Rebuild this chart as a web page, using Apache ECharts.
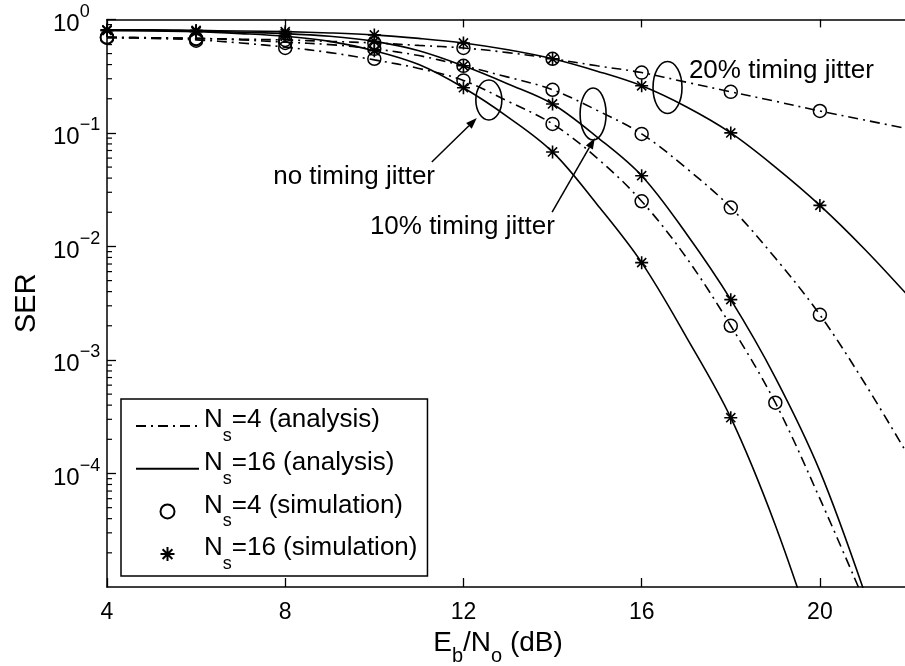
<!DOCTYPE html>
<html>
<head>
<meta charset="utf-8">
<script src="https://cdn.jsdelivr.net/npm/echarts@6/dist/echarts.min.js"></script>
<style>
  html, body { margin: 0; padding: 0; background: #fff; }
  #chart { width: 905px; height: 666px; }
</style>
</head>
<body>
<div id="chart"></div>
<script>
// Symbol error rate vs Eb/No, analysis curves and simulated points

// Eb/No grid (dB) of the analysis curves
const snrAnalysis = [4, 5, 6, 7, 8, 9, 10, 11, 12, 13, 14, 15, 16, 17, 18, 19, 20, 21, 22];

// Analysis, no timing jitter
const anaNoJitterNs16 = [0.80, 0.79, 0.78, 0.75, 0.71, 0.64, 0.53, 0.40, 0.25, 0.138, 0.068, 0.0234, 0.0072, 0.0016, 0.00031, 3.5e-5, 2.5e-6];
const anaNoJitterNs4  = [0.69, 0.68, 0.66, 0.62, 0.57, 0.51, 0.44, 0.37, 0.29, 0.19, 0.12, 0.060, 0.025, 0.0080, 0.0020, 0.00042, 6e-5, 7.5e-6];
// Analysis, 10% timing jitter
const anaJitter10Ns16 = [0.80, 0.80, 0.79, 0.77, 0.75, 0.71, 0.64, 0.53, 0.39, 0.27, 0.18, 0.092, 0.042, 0.013, 0.0034, 0.0007, 1.05e-4, 9e-6];
const anaJitter10Ns4  = [0.70, 0.69, 0.68, 0.66, 0.63, 0.60, 0.55, 0.48, 0.39, 0.31, 0.24, 0.158, 0.098, 0.049, 0.022, 0.0079, 0.0025, 0.00063, 0.00014];
// Analysis, 20% timing jitter
const anaJitter20Ns16 = [0.81, 0.81, 0.80, 0.79, 0.78, 0.76, 0.73, 0.68, 0.62, 0.54, 0.45, 0.35, 0.26, 0.17, 0.10, 0.050, 0.023, 0.0095, 0.0036];
const anaJitter20Ns4  = [0.69, 0.69, 0.68, 0.67, 0.66, 0.64, 0.62, 0.59, 0.56, 0.51, 0.45, 0.39, 0.34, 0.28, 0.23, 0.19, 0.156, 0.13, 0.108];

// Simulation points
const snrSim = [4, 6, 8, 10, 12, 14, 16, 18, 20];
const snrSimNoJitterNs4 = [4, 6, 8, 10, 12, 14, 16, 18, 19];
const simNoJitterNs4  = [0.69, 0.65, 0.56, 0.45, 0.29, 0.12, 0.025, 0.0020, 0.00042];
const simJitter10Ns4  = [0.70, 0.68, 0.62, 0.55, 0.39, 0.24, 0.098, 0.022, 0.0025];
const simJitter20Ns4  = [0.69, 0.67, 0.66, 0.62, 0.56, 0.45, 0.34, 0.23, 0.156];
const simNoJitterNs16 = [0.80, 0.78, 0.71, 0.53, 0.25, 0.068, 0.0072, 0.00031];
const simJitter10Ns16 = [0.80, 0.79, 0.75, 0.64, 0.39, 0.18, 0.042, 0.0034];
const simJitter20Ns16 = [0.81, 0.80, 0.78, 0.73, 0.62, 0.45, 0.26, 0.10, 0.023];

// Axis ticks
const xTicks = [4, 8, 12, 16, 20];
const yDecades = [-5, -4, -3, -2, -1, 0];

const FONT = '"Liberation Sans", Arial, Helvetica, sans-serif';
const BLACK = '#000';
const DASH_DOT = [10, 5, 2, 5];

const pair = (xs, ys) => ys.map((v, i) => [xs[i], v]);

function analysisSeries(name, ys, dashed) {
  return {
    name, type: 'line', data: pair(snrAnalysis, ys),
    symbol: 'none', showSymbol: false, smooth: 0.35, clip: true,
    lineStyle: { color: BLACK, width: 1.6, type: dashed ? DASH_DOT : 'solid' },
    itemStyle: { color: 'transparent', borderColor: 'transparent', borderWidth: 0 }, z: 3
  };
}

// minor ticks of the log axis (2..9 within each decade)
const minorTicks = [];
for (let i = 0; i < yDecades.length - 1; i++) {
  for (let k = 2; k <= 9; k++) minorTicks.push(k * Math.pow(10, yDecades[i]));
}

const STAR = 'path://M10,0L10,20M0,10L20,10M3,3L17,17M3,17L17,3';

const chart = echarts.init(document.getElementById('chart'), null, { renderer: 'canvas' });

const legendRich = {
  n: { fontSize: 26, fontFamily: FONT, color: BLACK, verticalAlign: 'top' },
  s: { fontSize: 18, fontFamily: FONT, color: BLACK, verticalAlign: 'bottom', padding: [20, 0, 0, 0] }
};

const hiddenDot = { opacity: 0 };

const option = {
  animation: false,
  backgroundColor: '#fff',
  grid: { left: 107, top: 19.4, width: 802, height: 567.6, containLabel: false, outerBoundsMode: 'none' },
  xAxis: [
    {
      type: 'value', min: 4, max: 22, interval: 4, position: 'bottom',
      axisLine: { show: true, lineStyle: { color: BLACK, width: 1.5 } },
      axisTick: { show: true, inside: true, length: 9, lineStyle: { color: BLACK, width: 1.3 },
        customValues: xTicks },
      axisLabel: { show: true, color: BLACK, fontSize: 23, fontFamily: FONT, margin: 14,
        customValues: xTicks },
      splitLine: { show: false },
      name: '{t|E}{s|b}{t|/N}{s|o}{t| (dB)}',
      nameLocation: 'middle', nameGap: 30,
      nameTextStyle: {
        padding: [0, 20, 0, 0],
        rich: {
          t: { fontSize: 28, fontFamily: FONT, color: BLACK, verticalAlign: 'top' },
          s: { fontSize: 20, fontFamily: FONT, color: BLACK, verticalAlign: 'bottom', padding: [18, 0, 0, 0] }
        }
      }
    },
    {
      type: 'value', min: 4, max: 22, interval: 4, position: 'top',
      axisLine: { show: true, lineStyle: { color: BLACK, width: 1.5 } },
      axisTick: { show: true, inside: true, length: 8, lineStyle: { color: BLACK, width: 1.3 },
        customValues: xTicks },
      axisLabel: { show: false },
      splitLine: { show: false }
    }
  ],
  yAxis: {
    type: 'log', logBase: 10, min: 1e-5, max: 1,
    axisLine: { show: true, lineStyle: { color: BLACK, width: 1.5 } },
    axisTick: { show: true, inside: true, length: 9, lineStyle: { color: BLACK, width: 1.3 } },
    axisLabel: {
      show: true, margin: 54, align: 'left', showMinLabel: false,
      formatter: v => {
        const e = Math.round(Math.log10(v));
        if (e <= yDecades[0]) return '';
        return '{b|10}{e|' + (e < 0 ? '\u2212' + (-e) : e) + '}';
      },
      rich: {
        b: { fontSize: 24, fontFamily: FONT, color: BLACK, verticalAlign: 'bottom' },
        e: { fontSize: 18, fontFamily: FONT, color: BLACK, verticalAlign: 'top', padding: [0, 0, 15, 0] }
      }
    },
    splitLine: { show: false },
    name: 'SER', nameLocation: 'middle', nameRotate: 90, nameGap: 66,
    nameTextStyle: { fontSize: 29, fontFamily: FONT, color: BLACK }
  },
  legend: {
    orient: 'vertical', left: 121, top: 399,
    padding: [8, 10, 3, 14], itemWidth: 63, itemHeight: 14, itemGap: 4.7,
    backgroundColor: '#fff', borderColor: BLACK, borderWidth: 1.5, borderRadius: 0,
    selectedMode: false,
    data: [
      { name: 'Ns=4 (analysis)', itemStyle: hiddenDot },
      { name: 'Ns=16 (analysis)', itemStyle: hiddenDot },
      'Ns=4 (simulation)',
      'Ns=16 (simulation)'
    ],
    formatter: name => '{n|N}{s|s}{n|' + name.slice(2) + '}',
    textStyle: { rich: legendRich, fontFamily: FONT, fontSize: 26, color: BLACK }
  },
  series: [
    analysisSeries('Ns=4 (analysis)', anaNoJitterNs4, true),
    analysisSeries('Ns=4 (analysis)', anaJitter10Ns4, true),
    analysisSeries('Ns=4 (analysis)', anaJitter20Ns4, true),
    analysisSeries('Ns=16 (analysis)', anaNoJitterNs16, false),
    analysisSeries('Ns=16 (analysis)', anaJitter10Ns16, false),
    analysisSeries('Ns=16 (analysis)', anaJitter20Ns16, false),
    {
      name: 'Ns=4 (simulation)', type: 'scatter', z: 4,
      data: [...pair(snrSimNoJitterNs4, simNoJitterNs4), ...pair(snrSim, simJitter10Ns4), ...pair(snrSim, simJitter20Ns4)],
      symbol: 'circle', symbolSize: 13,
      itemStyle: { color: 'transparent', borderColor: BLACK, borderWidth: 1.5, opacity: 1 }
    },
    {
      name: 'Ns=16 (simulation)', type: 'scatter', z: 4,
      data: [...pair(snrSim, simNoJitterNs16), ...pair(snrSim, simJitter10Ns16), ...pair(snrSim, simJitter20Ns16)],
      symbol: STAR, symbolSize: 13,
      itemStyle: { color: 'transparent', borderColor: BLACK, borderWidth: 1.6, opacity: 1 }
    },
    {
      type: 'custom', silent: true, z: 2, clip: false,
      data: minorTicks.map(v => [4, v]),
      renderItem: (params, api) => {
        const p = api.coord([api.value(0), api.value(1)]);
        return { type: 'line', shape: { x1: p[0], y1: p[1], x2: p[0] + 5, y2: p[1] },
          style: { stroke: BLACK, lineWidth: 1.2 } };
      }
    }
  ]
};

chart.setOption(option);

// Annotations: ellipses around curve pairs, arrows and captions (anchored in data coordinates)
const toPx = pt => chart.convertToPixel({ gridIndex: 0 }, pt);

function ellipse(center, rx, ry) {
  const c = toPx(center);
  return { type: 'ellipse', shape: { cx: c[0], cy: c[1], rx, ry },
    style: { fill: 'none', stroke: BLACK, lineWidth: 1.6 }, z: 10 };
}

function arrow(from, to) {
  const a = toPx(from), b = toPx(to);
  const dx = b[0] - a[0], dy = b[1] - a[1], L = Math.hypot(dx, dy);
  const ux = dx / L, uy = dy / L, hl = 11, hw = 4;
  const bx = b[0] - ux * hl, by = b[1] - uy * hl;
  return [
    { type: 'line', shape: { x1: a[0], y1: a[1], x2: bx, y2: by }, style: { stroke: BLACK, lineWidth: 1.5 }, z: 10 },
    { type: 'polygon', shape: { points: [[b[0], b[1]], [bx - uy * hw, by + ux * hw], [bx + uy * hw, by - ux * hw]] },
      style: { fill: BLACK }, z: 10 }
  ];
}

function caption(at, text) {
  const p = toPx(at);
  return { type: 'text', x: p[0], y: p[1], z: 10,
    style: { text, fill: BLACK, fontSize: 26, fontFamily: FONT, align: 'left', verticalAlign: 'middle' } };
}

chart.setOption({
  graphic: [
    ellipse([12.57, 0.195], 13, 20),
    ellipse([14.91, 0.147], 13, 26),
    ellipse([16.58, 0.251], 14.5, 26),
    ...arrow([11.29, 0.0554], [12.30, 0.135]),
    ...arrow([13.99, 0.0201], [14.95, 0.0904]),
    caption([7.73, 0.0409], 'no timing jitter'),
    caption([9.90, 0.01494], '10% timing jitter'),
    caption([17.06, 0.354], '20% timing jitter')
  ]
});
</script>
</body>
</html>
